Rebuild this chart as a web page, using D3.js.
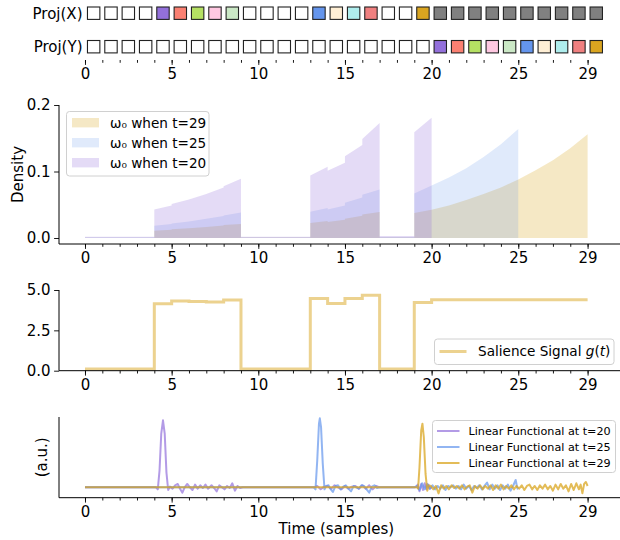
<!DOCTYPE html>
<html><head><meta charset="utf-8">
<script src="https://cdn.jsdelivr.net/npm/d3@7"></script>
<style>body{margin:0;background:#fff}svg{font-family:"DejaVu Sans",sans-serif}</style>
</head><body><svg id="c" width="620" height="540"></svg>
<script>
// ---------- DATA ----------
const majorTicks = [0,5,10,15,20,25,29];
const minorTicks = d3.range(0,30);
const W = "#ffffff", G = "#808080";
const projX = [W,W,W,W,"#9370db","#fa8072","#b5e063","#ffc8e1","#cbe8c6",W,W,W,W,"#6495ed","#ffefd5","#afeeee","#f08080",W,W,"#daa520",G,G,G,G,G,G,G,G,G,G];
const projY = [W,W,W,W,W,W,W,W,W,W,W,W,W,W,W,W,W,W,W,W,"#9370db","#fa8072","#b5e063","#ffc8e1","#cbe8c6","#6495ed","#ffefd5","#afeeee","#f08080","#daa520"];
const rowLabels = ["Proj(X)","Proj(Y)"];

const densityLabels = ["ω₀ when t=29","ω₀ when t=25","ω₀ when t=20"];
const densityTicks = [0.0,0.1,0.2];
const w29 = [[0,0.0005],[4,0.0005],[4,0.011],[5,0.0125],[5,0.013],[6,0.0145],[6,0.0145],[7,0.0165],[7,0.0165],[8,0.019],[8,0.0195],[9,0.021],[9,0.0006],[13,0.0006],[13,0.0225],[14,0.0255],[14,0.024],[15,0.0275],[15,0.029],[16,0.0335],[16,0.0355],[17,0.039],[17,0.0008],[19,0.0008],[19,0.0376],[20,0.0425],[21,0.049],[22,0.057],[23,0.066],[24,0.076],[25,0.088],[26,0.102],[27,0.117],[28,0.135],[29,0.156]];
const w25 = [[0,0.001],[4,0.001],[4,0.0185],[5,0.021],[5,0.022],[6,0.025],[6,0.025],[7,0.029],[7,0.029],[8,0.033],[8,0.034],[9,0.0385],[9,0.001],[13,0.001],[13,0.0396],[14,0.045],[14,0.043],[15,0.049],[15,0.053],[16,0.061],[16,0.065],[17,0.073],[17,0.0015],[19,0.0015],[19,0.067],[20,0.079],[21,0.091],[22,0.105],[23,0.122],[24,0.141],[25,0.164]];
const w20 = [[0,0.002],[4,0.002],[4,0.043],[5,0.049],[5,0.051],[6,0.058],[6,0.058],[7,0.066],[7,0.066],[8,0.076],[8,0.078],[9,0.089],[9,0.002],[13,0.002],[13,0.094],[14,0.107],[14,0.101],[15,0.113],[15,0.123],[16,0.140],[16,0.149],[17,0.173],[17,0.003],[19,0.003],[19,0.159],[20,0.181]];

const salienceTicks = [0.0,2.5,5.0];
const salience = [0.1,0.1,0.1,0.1,4.15,4.32,4.29,4.26,4.38,0.1,0.1,0.1,0.1,4.48,4.17,4.48,4.68,0.1,0.1,4.22,4.40,4.40,4.40,4.40,4.40,4.40,4.40,4.40,4.40];
const salienceLabel = "Salience Signal ";

const lfLabels = ["Linear Functional at t=20","Linear Functional at t=25","Linear Functional at t=29"];
const lf20 = [[0,0],[4.1,0],[4.2,-0.03],[4.3,0.25],[4.4,0.8],[4.5,1.0],[4.6,0.8],[4.7,0.22],[4.8,-0.04],[4.9,0.01],[5.05,-0.02],[5.2,0.03],[5.35,0.05],[5.5,-0.03],[5.62,-0.08],[5.75,0.0],[5.9,0.05],[6.05,0.0],[6.2,-0.04],[6.35,0.04],[6.5,-0.02],[6.65,0.03],[6.8,-0.01],[6.95,0.04],[7.1,-0.02],[7.3,0.03],[7.45,-0.01],[7.6,-0.06],[7.75,0.03],[7.9,0.0],[8.05,-0.03],[8.2,0.02],[8.35,-0.01],[8.5,0.06],[8.65,-0.05],[8.8,0.02],[8.95,-0.01],[9.1,0],[13.2,0],[13.4,0.02],[13.6,-0.03],[13.8,0.01],[14.0,0.02],[14.2,-0.02],[14.4,0.03],[14.6,0.0],[14.8,-0.03],[15.0,0.02],[15.2,-0.02],[15.4,0.01],[15.6,0.02],[15.8,-0.02],[16.0,0.03],[16.2,-0.02],[16.4,0.03],[16.6,-0.03],[16.8,0.02],[17.0,0],[19.1,0],[19.2,0.04],[19.3,-0.06],[19.4,0.05],[19.5,-0.04],[19.6,0.06],[19.7,-0.03],[19.8,0.04],[19.9,-0.02],[20,0]];
const lf25 = [[0,0],[13.2,0],[13.3,-0.03],[13.4,0.4],[13.5,0.95],[13.55,1.03],[13.62,0.9],[13.72,0.35],[13.82,-0.03],[13.92,0.02],[14.05,0.03],[14.15,-0.02],[14.3,-0.07],[14.45,0.02],[14.6,0.03],[14.75,-0.03],[14.9,0.01],[15.05,0.03],[15.2,-0.02],[15.35,-0.06],[15.5,0.02],[15.65,0.0],[15.8,-0.02],[15.95,0.03],[16.1,0.02],[16.25,-0.03],[16.4,-0.08],[16.55,0.01],[16.7,0.03],[16.85,-0.01],[17.0,0],[19.0,0],[19.15,0.02],[19.3,-0.04],[19.45,0.06],[19.6,-0.03],[19.75,0.05],[19.9,-0.02],[20.05,0.03],[20.2,-0.03],[20.35,0.02],[20.5,-0.02],[20.65,0.03],[20.8,-0.04],[20.95,0.02],[21.1,0.0],[21.25,0.03],[21.4,-0.02],[21.55,0.02],[21.7,-0.03],[21.85,0.04],[22.0,-0.02],[22.15,0.02],[22.3,-0.04],[22.45,0.02],[22.6,-0.01],[22.75,0.03],[22.9,-0.03],[23.05,0.02],[23.2,0.07],[23.35,-0.03],[23.5,0.04],[23.65,-0.02],[23.8,0.03],[23.95,-0.04],[24.1,0.03],[24.25,-0.02],[24.4,0.04],[24.55,-0.05],[24.7,0.02],[24.85,0.11],[24.95,-0.02],[25,0]];
const lf29 = [[0,0],[19.15,0],[19.22,-0.02],[19.3,0.3],[19.4,0.85],[19.47,0.95],[19.55,0.75],[19.65,0.2],[19.75,-0.05],[19.85,0.03],[19.95,0.02],[20.1,-0.03],[20.25,0.02],[20.4,-0.09],[20.55,0.03],[20.7,-0.02],[20.85,0.02],[21.0,-0.03],[21.15,0.03],[21.3,-0.01],[21.45,0.02],[21.6,-0.02],[21.75,0.03],[21.9,-0.03],[22.05,0.01],[22.2,0.03],[22.35,-0.08],[22.5,0.02],[22.65,-0.02],[22.8,0.03],[22.95,-0.03],[23.1,0.02],[23.25,-0.02],[23.4,0.03],[23.55,-0.04],[23.7,0.03],[23.85,-0.02],[24.0,0.04],[24.15,-0.03],[24.3,0.02],[24.45,-0.02],[24.6,0.03],[24.75,-0.03],[24.9,0.02],[25.05,-0.02],[25.2,0.03],[25.35,-0.04],[25.5,0.02],[25.65,0.04],[25.8,-0.03],[25.95,0.02],[26.1,-0.04],[26.25,0.03],[26.4,-0.02],[26.55,0.04],[26.7,-0.03],[26.85,0.02],[27.0,-0.05],[27.15,0.04],[27.3,-0.03],[27.45,0.05],[27.6,-0.02],[27.75,0.03],[27.9,-0.06],[28.05,0.05],[28.2,-0.04],[28.35,0.06],[28.5,-0.03],[28.6,0.04],[28.7,-0.09],[28.8,0.05],[28.9,0.08],[29.0,0.02]];

// ---------- DRAW ----------
const svg = d3.select("#c");
const x = d3.scaleLinear().domain([-1.5, 30.87]).range([59, 620]);
const TXT = "#000";
const FS = 15;

function xAxis(yPos, spine) {
  const g = svg.append("g").attr("transform", `translate(0,${yPos})`);
  g.call(d3.axisBottom(x).tickValues(minorTicks).tickSize(2.8).tickFormat(""))
   .call(a => a.select(".domain").remove());
  const gm = svg.append("g").attr("transform", `translate(0,${yPos})`);
  gm.call(d3.axisBottom(x).tickValues(majorTicks).tickSize(4.9).tickPadding(3.5).tickFormat(d3.format("d")))
    .call(a => a.select(".domain").remove());
  svg.selectAll(".tick line").attr("stroke", "#000").attr("stroke-width", 0.9);
  gm.selectAll("text").attr("font-size", FS).attr("fill", TXT).attr("font-family", "DejaVu Sans");
  if (spine) svg.append("line").attr("x1", 59).attr("x2", 620).attr("y1", yPos).attr("y2", yPos)
    .attr("stroke", "#000").attr("stroke-width", 1);
}
function leftSpine(y0, y1) {
  svg.append("line").attr("x1", 59).attr("x2", 59).attr("y1", y0).attr("y2", y1).attr("stroke", "#000").attr("stroke-width", 1);
}
function yAxis(scale, ticks, fmt) {
  const g = svg.append("g").attr("transform", "translate(59,0)");
  g.call(d3.axisLeft(scale).tickValues(ticks).tickSize(4.9).tickPadding(3.5).tickFormat(d3.format(fmt)))
   .call(a => a.select(".domain").remove());
  g.selectAll("line").attr("stroke", "#000").attr("stroke-width", 0.9);
  g.selectAll("text").attr("font-size", FS).attr("fill", TXT).attr("font-family", "DejaVu Sans");
}

// Panel 1: projections
const sq = 12.4;
const rowsY = [13.2, 46.7];
[projX, projY].forEach((cols, r) => {
  svg.append("g").selectAll("rect").data(cols).join("rect")
    .attr("x", (d, i) => x(i + 0.5) - sq / 2).attr("y", rowsY[r] - sq / 2)
    .attr("width", sq).attr("height", sq)
    .attr("fill", d => d).attr("stroke", "#222").attr("stroke-width", 1.1);
  svg.append("text").attr("x", 82.5).attr("y", rowsY[r]).attr("dy", "0.36em")
    .attr("text-anchor", "end").attr("font-size", FS).text(rowLabels[r]);
});
xAxis(60, false);

// Panel 2: density
const y2 = d3.scaleLinear().domain([-0.009, 0.2]).range([244, 105]);
const area = d3.area().x(d => x(d[0])).y0(y2(0)).y1(d => y2(d[1]));
const densFills = ["rgba(218,165,32,0.26)", "rgba(100,149,237,0.2)", "rgba(147,112,219,0.25)"];
[w29, w25, w20].forEach((s, i) => svg.append("path").datum(s).attr("d", area).attr("fill", densFills[i]));
xAxis(244, true);
leftSpine(244, 105);
yAxis(y2, densityTicks, ".1f");
svg.append("text").attr("transform", `translate(18,${(244+105)/2}) rotate(-90)`).attr("text-anchor", "middle")
  .attr("dy", "0.36em").attr("font-size", FS).text("Density");
// legend
const lg2 = svg.append("g");
lg2.append("rect").attr("x", 66.5).attr("y", 111.5).attr("width", 142.5).attr("height", 64.5).attr("rx", 3)
  .attr("fill", "rgba(255,255,255,0.8)").attr("stroke", "#d0d0d0").attr("stroke-width", 1);
densityLabels.forEach((t, i) => {
  const cy = 122.7 + i * 20;
  lg2.append("rect").attr("x", 72).attr("y", cy - 4.7).attr("width", 27).attr("height", 9.4).attr("fill", densFills[i]);
  lg2.append("text").attr("x", 110).attr("y", cy).attr("dy", "0.36em").attr("font-size", 13.6).text(t);
});

// Panel 3: salience
const y3 = d3.scaleLinear().domain([0, 5]).range([370.7, 290]);
const salPts = salience.map((v, i) => [i, v]).concat([[salience.length, salience[salience.length - 1]]]);
svg.append("path").datum(salPts)
  .attr("d", d3.line().x(d => x(d[0])).y(d => y3(d[1])).curve(d3.curveStepAfter))
  .attr("fill", "none").attr("stroke", "rgba(218,165,32,0.5)").attr("stroke-width", 3);
xAxis(370.7, true);
leftSpine(370.7, 290);
yAxis(y3, salienceTicks, ".1f");
const lg3 = svg.append("g");
lg3.append("rect").attr("x", 434.5).attr("y", 339).attr("width", 179.5).attr("height", 25.5).attr("rx", 3)
  .attr("fill", "rgba(255,255,255,0.8)").attr("stroke", "#d0d0d0").attr("stroke-width", 1);
lg3.append("line").attr("x1", 439.5).attr("x2", 466.5).attr("y1", 351.5).attr("y2", 351.5)
  .attr("stroke", "rgba(218,165,32,0.5)").attr("stroke-width", 3);
const st = lg3.append("text").attr("x", 478).attr("y", 351.5).attr("dy", "0.36em").attr("font-size", 13.6);
st.append("tspan").text(salienceLabel);
st.append("tspan").attr("font-style", "italic").text("g");
st.append("tspan").text("(");
st.append("tspan").attr("font-style", "italic").text("t");
st.append("tspan").text(")");

// Panel 4: linear functionals
const y4 = d3.scaleLinear().domain([-0.155, 1.05]).range([497.7, 417]);
const lfColors = ["rgba(147,112,219,0.7)", "rgba(100,149,237,0.7)", "rgba(218,165,32,0.75)"];
const line4 = d3.line().x(d => x(d[0])).y(d => y4(d[1]));
[lf20, lf25, lf29].forEach((s, i) => svg.append("path").datum(s).attr("d", line4)
  .attr("fill", "none").attr("stroke", lfColors[i]).attr("stroke-width", 2).attr("stroke-linejoin", "round"));
xAxis(497.7, true);
leftSpine(497.7, 417);
svg.append("text").attr("transform", `translate(42,${(497.7+417)/2}) rotate(-90)`).attr("text-anchor", "middle")
  .attr("dy", "0.36em").attr("font-size", FS).text("(a.u.)");
svg.append("text").attr("x", x(14.5)).attr("y", 529).attr("dy", "0.36em").attr("text-anchor", "middle")
  .attr("font-size", FS).text("Time (samples)");
const lg4 = svg.append("g");
lg4.append("rect").attr("x", 432.5).attr("y", 420.5).attr("width", 183).attr("height", 52).attr("rx", 3)
  .attr("fill", "rgba(255,255,255,0.8)").attr("stroke", "#d0d0d0").attr("stroke-width", 1);
lfLabels.forEach((t, i) => {
  const cy = 431 + i * 16;
  lg4.append("line").attr("x1", 437).attr("x2", 459.5).attr("y1", cy).attr("y2", cy)
    .attr("stroke", lfColors[i]).attr("stroke-width", 2);
  lg4.append("text").attr("x", 468.5).attr("y", cy).attr("dy", "0.36em").attr("font-size", 11.2).text(t);
});
</script></body></html>
